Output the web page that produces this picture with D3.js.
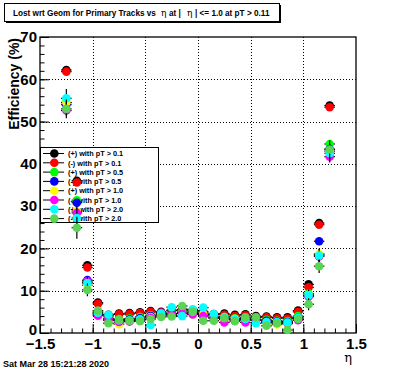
<!DOCTYPE html>
<html>
<head>
<meta charset="utf-8">
<script src="https://cdn.jsdelivr.net/npm/d3@7"></script>
<style>
  body { margin: 0; background: #fff; }
  svg { display: block; font-family: "Liberation Sans", Arial, sans-serif; }
</style>
</head>
<body>
<svg class="chart"></svg>
<script>
const size = {w: 396, h: 372};
const frame = {left: 40, right: 356, top: 37, bottom: 333};

// bin centres in eta
const eta = [-1.25, -1.15, -1.05, -0.95, -0.85, -0.75, -0.65, -0.55, -0.45, -0.35,
             -0.25, -0.15, -0.05, 0.05, 0.15, 0.25, 0.35, 0.45, 0.55, 0.65,
             0.75, 0.85, 0.95, 1.05, 1.15, 1.25];

// efficiency (%) per series, one value per bin
const posPt01 = [62.2, 36.0, 16.0, 7.2, 4.3, 4.6, 4.7, 4.9, 5.2, 5.0, 5.4, 5.6, 5.4, 5.0, 4.5, 4.6, 4.3, 4.4, 4.0, 3.9, 3.7, 3.7, 5.3, 11.5, 26.0, 53.8];
const negPt01 = [61.8, 35.6, 15.5, 6.9, 4.0, 4.4, 4.5, 4.7, 5.0, 4.8, 5.3, 5.5, 5.3, 4.7, 4.3, 4.3, 4.0, 4.2, 3.8, 3.7, 3.5, 3.4, 5.0, 10.8, 25.6, 53.4];
const posPt05 = [54.5, 31.4, 12.0, 5.0, 3.5, 3.3, 3.4, 3.8, 4.2, 4.2, 4.6, 5.2, 4.8, 4.3, 3.8, 3.8, 3.5, 3.4, 3.3, 3.1, 2.9, 2.8, 4.0, 9.3, 18.5, 44.7];
const negPt05 = [54.0, 30.8, 12.5, 4.4, 3.3, 3.0, 3.2, 3.5, 4.0, 4.6, 4.5, 4.8, 4.6, 4.2, 3.6, 3.4, 3.2, 3.1, 3.0, 2.9, 2.7, 2.6, 3.6, 8.8, 21.7, 43.5];
const posPt10 = [54.5, 28.8, 11.3, 4.6, 3.0, 2.1, 2.8, 3.2, 3.8, 4.4, 4.2, 4.7, 4.4, 4.4, 3.6, 3.2, 3.3, 3.1, 3.2, 2.4, 2.0, 2.2, 3.4, 9.0, 18.7, 43.0];
const negPt10 = [52.6, 28.4, 12.3, 4.1, 3.1, 2.6, 2.7, 3.0, 3.6, 4.8, 4.3, 4.6, 4.4, 4.0, 3.5, 2.5, 2.9, 2.5, 3.0, 2.6, 2.4, 2.3, 3.0, 8.6, 18.1, 41.7];
const posPt20 = [55.5, 27.2, 11.8, 4.8, 4.3, 3.0, 3.0, 3.2, 1.9, 4.6, 6.1, 4.0, 5.6, 6.0, 4.5, 3.8, 3.2, 3.3, 2.3, 2.6, 2.6, 2.5, 3.6, 8.9, 18.3, 42.5];
const negPt20 = [53.0, 24.9, 10.2, 5.3, 2.3, 3.1, 2.9, 2.8, 3.3, 3.8, 3.9, 6.4, 5.0, 2.9, 2.9, 3.5, 2.8, 3.7, 3.7, 1.7, 2.3, 0.7, 3.3, 6.8, 15.8, 43.4];

// vertical error (%) per series
const errPt01 = [0.5, 0.6, 0.5, 0.3, 0.2, 0.2, 0.2, 0.2, 0.2, 0.2, 0.2, 0.2, 0.2, 0.2, 0.2, 0.2, 0.2, 0.2, 0.2, 0.2, 0.2, 0.2, 0.3, 0.5, 0.6, 0.5];
const errPt05 = [0.9, 0.9, 0.7, 0.4, 0.3, 0.3, 0.3, 0.3, 0.3, 0.3, 0.3, 0.3, 0.3, 0.3, 0.3, 0.3, 0.3, 0.3, 0.3, 0.3, 0.3, 0.3, 0.4, 0.7, 0.9, 0.9];
const errPt10 = [1.2, 1.2, 0.9, 0.5, 0.4, 0.4, 0.4, 0.4, 0.4, 0.4, 0.4, 0.4, 0.4, 0.4, 0.4, 0.4, 0.4, 0.4, 0.4, 0.4, 0.4, 0.4, 0.5, 0.9, 1.2, 1.2];
const errPt20 = [2.2, 2.6, 1.5, 0.8, 0.7, 0.7, 0.7, 0.7, 0.7, 0.7, 0.7, 0.7, 0.7, 0.7, 0.7, 0.7, 0.7, 0.7, 0.7, 0.7, 0.7, 0.7, 0.8, 1.4, 1.6, 2.2];

const seriesNames = ['(+) with pT > 0.1', '(-) with pT > 0.1', '(+) with pT > 0.5', '(-) with pT > 0.5',
                     '(+) with pT > 1.0', '(-) with pT > 1.0', '(+) with pT > 2.0', '(-) with pT > 2.0'];
const seriesColors = ['#000000', '#ff0000', '#00ff00', '#0000ff', '#ffff00', '#ff00ff', '#00ffff', '#59d454'];
const seriesValues = [posPt01, negPt01, posPt05, negPt05, posPt10, negPt10, posPt20, negPt20];
const seriesErrors = [errPt01, errPt01, errPt05, errPt05, errPt10, errPt10, errPt20, errPt20];

const binHalfWidth = 0.05;
const xTicks = [-1.5, -1, -0.5, 0, 0.5, 1, 1.5];
const yTicks = [0, 10, 20, 30, 40, 50, 60, 70];

const svg = d3.select('svg.chart')
    .attr('width', size.w)
    .attr('height', size.h);

svg.append('rect').attr('width', size.w).attr('height', size.h).attr('fill', '#fff');

const x = d3.scaleLinear().domain([-1.5, 1.5]).range([frame.left, frame.right]);
const y = d3.scaleLinear().domain([0, 70]).range([frame.bottom, frame.top]);

// dotted grid
const grid = svg.append('g').attr('stroke', '#000').attr('stroke-width', 1).attr('stroke-dasharray', '1,2');
grid.selectAll('line.gx')
    .data(xTicks.slice(1, -1))
    .join('line')
    .attr('x1', d => Math.round(x(d)) + 0.5).attr('x2', d => Math.round(x(d)) + 0.5)
    .attr('y1', frame.top).attr('y2', frame.bottom);
grid.selectAll('line.gy')
    .data(yTicks.slice(1, -1))
    .enter().append('line')
    .attr('y1', d => Math.round(y(d)) + 0.5).attr('y2', d => Math.round(y(d)) + 0.5)
    .attr('x1', frame.left).attr('x2', frame.right);

// axes: ticks point inwards
const xMinor = d3.range(-1.5, 1.5001, 0.1).map(d => +d.toFixed(2));
const yMinor = d3.range(0, 70.001, 2);

const xAxisG = svg.append('g').attr('transform', `translate(0,${frame.bottom})`);
xAxisG.call(d3.axisBottom(x).tickValues(xMinor).tickSize(-4.5).tickFormat(''));
xAxisG.append('g').call(d3.axisBottom(x).tickValues(xTicks).tickSize(-9).tickPadding(5).tickFormat(d3.format('~g')));

const yAxisG = svg.append('g').attr('transform', `translate(${frame.left},0)`);
yAxisG.call(d3.axisLeft(y).tickValues(yMinor).tickSize(-4.5).tickFormat(''));
yAxisG.append('g').call(d3.axisLeft(y).tickValues(yTicks).tickSize(-9).tickPadding(3).tickFormat(d3.format('d')));

svg.selectAll('.domain').remove();
svg.selectAll('.tick line').attr('stroke', '#000');
svg.selectAll('.tick text')
    .attr('fill', '#000')
    .style('font-family', '"Liberation Sans", Arial, sans-serif')
    .style('font-weight', 'bold')
    .style('font-size', '15px');
// the "0" at the origin sits a little higher, as in the picture
yAxisG.selectAll('.tick text').filter(d => d === 0).attr('dy', '0.1em');

// frame
svg.append('rect')
    .attr('x', frame.left).attr('y', frame.top)
    .attr('width', frame.right - frame.left).attr('height', frame.bottom - frame.top)
    .attr('fill', 'none').attr('stroke', '#000').attr('stroke-width', 1.3);

// legend (drawn before the graphs, which paint over it)
const leg = {x: 40, y: 147, w: 118, h: 75};
svg.append('rect')
    .attr('x', leg.x + 0.5).attr('y', leg.y + 0.5)
    .attr('width', leg.w).attr('height', leg.h)
    .attr('fill', '#fff').attr('stroke', '#000').attr('stroke-width', 1);

const legRow = svg.append('g').selectAll('g')
    .data(seriesNames)
    .join('g')
    .attr('transform', (d, i) => `translate(0,${leg.y + 6.5 + i * 9.3})`);
legRow.append('line')
    .attr('x1', 43).attr('x2', 64).attr('y1', 0).attr('y2', 0)
    .attr('stroke', '#000').attr('stroke-width', 1);
legRow.append('circle')
    .attr('cx', 54.3).attr('cy', 0).attr('r', 4.3)
    .attr('fill', (d, i) => seriesColors[i]);
legRow.append('text')
    .attr('x', 68).attr('y', 2.7)
    .style('font-weight', 'bold')
    .style('font-size', '7.3px')
    .text(d => d);

// data: one graph after the other, error bars then markers
const pts = svg.append('g');
seriesValues.forEach((vals, s) => {
    const data = vals.map((v, i) => ({x: eta[i], v: v, e: seriesErrors[s][i]}));
    const g = pts.append('g');
    g.selectAll('line.ex')
        .data(data)
        .join('line')
        .attr('x1', d => x(d.x - binHalfWidth)).attr('x2', d => x(d.x + binHalfWidth))
        .attr('y1', d => y(d.v)).attr('y2', d => y(d.v))
        .attr('stroke', '#000').attr('stroke-width', 1.2);
    g.selectAll('line.ey')
        .data(data)
        .enter().append('line')
        .attr('x1', d => x(d.x)).attr('x2', d => x(d.x))
        .attr('y1', d => y(d.v - d.e)).attr('y2', d => y(d.v + d.e))
        .attr('stroke', '#000').attr('stroke-width', 1.2);
    g.selectAll('circle')
        .data(data)
        .join('circle')
        .attr('cx', d => x(d.x))
        .attr('cy', d => y(d.v))
        .attr('r', 4.3)
        .attr('fill', seriesColors[s]);
});

// axis titles
svg.append('text')
    .attr('transform', `translate(19,${frame.top + 1}) rotate(-90)`)
    .attr('text-anchor', 'end')
    .style('font-weight', 'bold')
    .style('font-size', '14px')
    .text('Efficiency (%)');

svg.append('text')
    .attr('x', frame.right - 4).attr('y', 362)
    .attr('text-anchor', 'end')
    .style('font-family', '"DejaVu Serif", "Liberation Serif", serif')
    .style('font-size', '13px')
    .text('η');

// title box with shadow
const tb = {x: 4, y: 3, w: 275, h: 18};
svg.append('rect')
    .attr('x', tb.x + 2).attr('y', tb.y + 2)
    .attr('width', tb.w).attr('height', tb.h).attr('fill', '#000');
svg.append('rect')
    .attr('x', tb.x + 0.5).attr('y', tb.y + 0.5)
    .attr('width', tb.w).attr('height', tb.h)
    .attr('fill', '#fff').attr('stroke', '#000');

const title = svg.append('text')
    .attr('x', 13).attr('y', 16)
    .style('font-weight', 'bold')
    .style('font-size', '8.2px')
    .attr('xml:space', 'preserve');
title.append('tspan').text('Lost wrt Geom for Primary Tracks vs ');
title.append('tspan').attr('x', 161).style('font-weight', 'normal').style('font-family', '"DejaVu Serif", serif').style('font-size', '9px').text('η');
title.append('tspan').attr('x', 169).text('at |');
title.append('tspan').attr('x', 187).style('font-weight', 'normal').style('font-family', '"DejaVu Serif", serif').style('font-size', '9px').text('η');
title.append('tspan').attr('x', 195).text('| <= 1.0 at pT > 0.11');

// date stamp
svg.append('text')
    .attr('x', 3).attr('y', 367)
    .style('font-weight', 'bold')
    .style('font-size', '9px')
    .text('Sat Mar 28 15:21:28 2020');
</script>
</body>
</html>
